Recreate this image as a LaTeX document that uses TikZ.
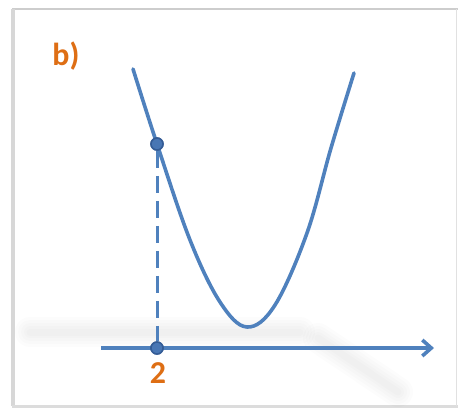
\documentclass[tikz,border=0pt]{standalone}
\usepackage{fontspec}
\setmainfont{Carlito}
\usetikzlibrary{arrows.meta}
\definecolor{curveblue}{RGB}{79,129,189}
\definecolor{dotfill}{RGB}{72,118,180}
\definecolor{dotdraw}{RGB}{52,92,150}
\definecolor{labelorange}{RGB}{222,110,20}
\definecolor{framegray}{RGB}{205,205,205}
\tikzset{
  curve/.style={draw=curveblue, line width=3.6bp, line cap=round, line join=round},
  dotnode/.style={circle, fill=dotfill, draw=dotdraw, line width=1.5bp, minimum size=12bp, inner sep=0pt},
  guide/.style={draw=curveblue, line width=3bp, dash pattern=on 17bp off 8bp},
  axisline/.style={draw=curveblue, line width=3.6bp, -{Straight Barb[length=9bp,width=16bp,line width=3.6bp]}},
  lab/.style={text=labelorange, font=\fontsize{32}{34}\selectfont\bfseries, inner sep=0pt},
  blur/.style={draw=black, opacity=0.012, line cap=round},
}
\begin{document}
\begin{tikzpicture}[x=1bp,y=-1bp]
\useasboundingbox (0,0) rectangle (458,412);
\fill[white] (0,0) rectangle (458,412);
% frame
\draw[framegray, line width=1.2bp] (12,9) -- (458,9);
\draw[framegray!80, line width=3.5bp] (13,9) -- (13,406);
\draw[framegray!70, line width=3bp] (12,406) -- (458,406);
\draw[framegray!60, line width=1bp] (456,9) -- (456,406);
% soft reflection shadows
\foreach \w in {30,24,18,12,7} {
  \draw[blur, line width=\w bp] (30,332) -- (300,332);
  \draw[blur, line width=\w bp] (318,338) -- (398,392);
}
% curve
\draw[curve] plot[smooth, tension=0.6] coordinates {(133,69) (157,144) (190,240) (220,302) (247,327) (275,305) (307,233) (331,148) (354,73)};
% axis
\coordinate (axL) at (101,348);
\coordinate (axR) at (434,348);
\draw[axisline] (axL) -- (axR);
% points
\node[dotnode] (p) at (157,144) {};
\node[dotnode] (q) at (157,348) {};
\draw[guide] (p.south) -- (q.north);
\node[dotnode] at (157,144) {};
\node[dotnode] at (157,348) {};
% labels
\node[lab] (b) at (66,56) {b)};
\node[lab] (two) at (158,373) {2};
\end{tikzpicture}
\end{document}
